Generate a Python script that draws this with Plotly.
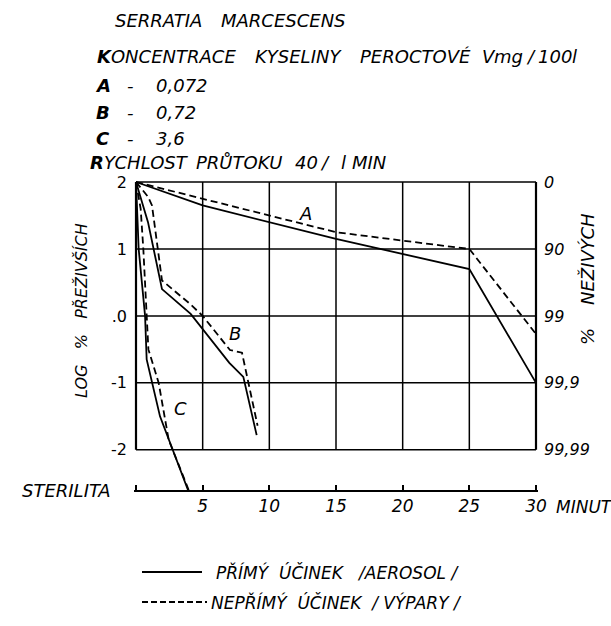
import plotly.graph_objects as go

# ---- data ----
A_solid_x = [0, 5, 15, 25, 30]
A_solid_y = [2, 1.65, 1.15, 0.7, -1.0]
A_dash_x = [0, 5, 15, 25, 30]
A_dash_y = [2, 1.75, 1.25, 1.0, -0.27]

B_solid_x = [0, 0.9, 1.95, 4.1, 7.0, 8.05, 9.05]
B_solid_y = [2, 1.4, 0.4, 0.03, -0.7, -0.91, -1.78]
B_dash_x = [0, 0.9, 1.2, 1.95, 4.05, 5.0, 7.05, 7.95, 9.12]
B_dash_y = [2, 1.78, 1.65, 0.53, 0.18, 0.0, -0.51, -0.55, -1.64]

C_solid_x = [0, 0.2, 0.68, 0.8, 1.8, 3.9]
C_solid_y = [2, 1.0, 0.0, -0.65, -1.5, -2.6]
C_dash_x = [0, 0.35, 0.55, 0.78, 0.93, 1.7, 2.45, 3.95]
C_dash_y = [2, 1.6, 1.0, 0.0, -0.5, -1.0, -1.85, -2.6]

curve_labels = ["A", "B", "C"]
label_x = [12.7, 7.43, 3.3]
label_y = [1.53, -0.26, -1.38]

x_ticks = [0, 5, 10, 15, 20, 25, 30]
x_ticktext = ["", "5", "10", "15", "20", "25", "30"]
y_ticks = [2, 1, 0, -1, -2]
y_left_text = ["2", "1", ".0", "-1", "-2"]
y_right_text = ["0", "90", "99", "99,9", "99,99"]

header_words = [
    ["SERRATIA", "MARCESCENS"],
    ["<b>K</b>ONCENTRACE", "KYSELINY", "PEROCTOVÉ", "V", "mg", "/", "100", "l"],
    ["<b>A</b>", "-", "0,072"],
    ["<b>B</b>", "-", "0,72"],
    ["<b>C</b>", "-", "3,6"],
    ["<b>R</b>YCHLOST", "PRŮTOKU", "40", "/", "l", "MIN"],
]
legend_names = ["PŘÍMÝ  ÚČINEK   /AEROSOL /", "NEPŘÍMÝ  ÚČINEK  / VÝPARY /"]

# ---- layout geometry (pixel centres of the header words) ----
header_x = [
    [158, 283],
    [166, 298, 415, 489, 508, 531, 555, 574],
    [103, 130, 182],
    [103, 130, 176],
    [103, 130, 170],
    [139, 239, 306, 325, 343, 369],
]
header_y = [20, 56, 85, 112, 138, 163]

W, H = 611, 626
L, R, T, B = 134, 73, 180, 136
PW, PH = W - L - R, H - T - B
FONT = "DejaVu Sans"


def px(xp):
    return (xp - L) / PW


def py(yp):
    return (H - B - yp) / PH


fig = go.Figure()
line_w = 1.8
for xs, ys, dash in [
    (A_solid_x, A_solid_y, "solid"), (A_dash_x, A_dash_y, "7px,4px"),
    (B_solid_x, B_solid_y, "solid"), (B_dash_x, B_dash_y, "7px,4px"),
    (C_solid_x, C_solid_y, "solid"), (C_dash_x, C_dash_y, "7px,4px"),
]:
    fig.add_trace(go.Scatter(x=xs, y=ys, mode="lines",
                             line=dict(color="black", width=line_w, dash=dash),
                             showlegend=False, hoverinfo="skip"))

# invisible trace for right axis
fig.add_trace(go.Scatter(x=[0], y=[2], yaxis="y2", mode="markers",
                         marker=dict(opacity=0), showlegend=False, hoverinfo="skip"))

shapes = []
for yv in y_ticks:
    shapes.append(dict(type="line", xref="x", yref="y", x0=0, x1=30, y0=yv, y1=yv,
                       line=dict(color="black", width=1.5)))
for xv in x_ticks:
    w = 2.2 if xv in (0, 30) else 1.5
    shapes.append(dict(type="line", xref="x", yref="y", x0=xv, x1=xv, y0=-2, y1=2,
                       line=dict(color="black", width=w)))
# legend sample lines
shapes.append(dict(type="line", xref="paper", yref="paper",
                   x0=px(142), x1=px(202), y0=py(572), y1=py(572),
                   line=dict(color="black", width=2)))
shapes.append(dict(type="line", xref="paper", yref="paper",
                   x0=px(142), x1=px(207), y0=py(602), y1=py(602),
                   line=dict(color="black", width=2, dash="6px,3px")))


def ifont(size):
    return dict(family=FONT, size=size, color="black", style="italic")


annotations = []
for words, xs, yp in zip(header_words, header_x, header_y):
    for wtxt, xp in zip(words, xs):
        annotations.append(dict(text=wtxt, xref="paper", yref="paper", x=px(xp), y=py(yp),
                                xanchor="center", yanchor="middle", showarrow=False,
                                borderpad=0, font=ifont(18)))
for t, xv, yv in zip(curve_labels, label_x, label_y):
    annotations.append(dict(text=t, x=xv, y=yv, xref="x", yref="y", showarrow=False,
                            font=ifont(18)))
annotations.append(dict(text="STERILITA", xref="paper", yref="paper", x=px(21), y=py(490),
                        xanchor="left", yanchor="middle", showarrow=False, borderpad=0,
                        font=ifont(18)))
annotations.append(dict(text="MINUT", xref="paper", yref="paper", x=px(555), y=py(507),
                        xanchor="left", yanchor="middle", showarrow=False, borderpad=0,
                        font=ifont(17)))
annotations.append(dict(text="LOG   %   PŘEŽIVŠÍCH", xref="paper", yref="paper",
                        x=px(81), y=py(311), textangle=-90, xanchor="center",
                        yanchor="middle", showarrow=False, font=ifont(16)))
annotations.append(dict(text="%    NEŽIVÝCH", xref="paper", yref="paper",
                        x=px(587), y=py(279), textangle=-90, xanchor="center",
                        yanchor="middle", showarrow=False, font=ifont(18)))
annotations.append(dict(text=legend_names[0], xref="paper", yref="paper", x=px(215), y=py(572),
                        xanchor="left", yanchor="middle", showarrow=False, borderpad=0,
                        font=ifont(17)))
annotations.append(dict(text=legend_names[1], xref="paper", yref="paper", x=px(210), y=py(602),
                        xanchor="left", yanchor="middle", showarrow=False, borderpad=0,
                        font=ifont(17)))

fig.update_layout(
    width=W, height=H,
    margin=dict(l=L, r=R, t=T, b=B, pad=0),
    paper_bgcolor="white", plot_bgcolor="white",
    showlegend=False,
    xaxis=dict(range=[-0.15, 30.15], tickvals=x_ticks, ticktext=x_ticktext,
               showgrid=False, zeroline=False, showline=True, linecolor="black",
               linewidth=2, ticks="inside", ticklen=5, tickwidth=1.5, tickcolor="black",
               tickfont=ifont(17)),
    yaxis=dict(range=[-2.6, 2.03], tickvals=y_ticks, ticktext=y_left_text,
               showgrid=False, zeroline=False, showline=False, ticks="",
               ticklabelstandoff=6,
               tickfont=dict(family=FONT, size=16, color="black")),
    yaxis2=dict(range=[-2.6, 2.03], overlaying="y", side="right", tickvals=y_ticks,
                ticktext=y_right_text, showgrid=False, zeroline=False, showline=False,
                ticks="", ticklabelstandoff=5,
                tickfont=ifont(16)),
    shapes=shapes,
    annotations=annotations,
)

fig.write_html("out.html", config={"displayModeBar": False},
               post_script="document.body.style.margin='0px';")
